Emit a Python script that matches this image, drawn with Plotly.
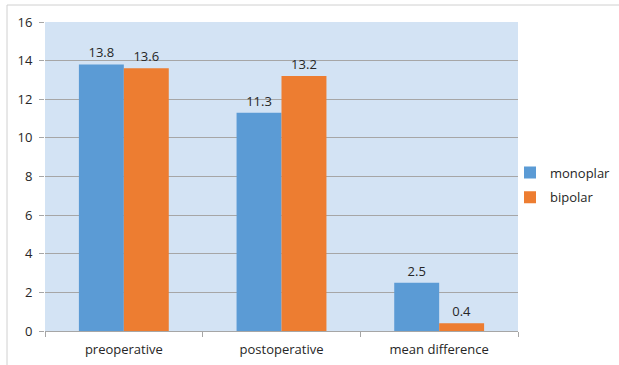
import plotly.graph_objects as go

categories = ["preoperative", "postoperative", "mean difference"]
monoplar = [13.8, 11.3, 2.5]
bipolar = [13.6, 13.2, 0.4]
y_ticks = [0, 2, 4, 6, 8, 10, 12, 14, 16]

font_family = "Open Sans, Liberation Sans, sans-serif"

fig = go.Figure()
fig.add_trace(go.Bar(
    name="monoplar", x=categories, y=monoplar, legendgroup="m",
    marker=dict(color="#5b9bd5", line=dict(width=0)),
    text=[str(v) for v in monoplar], textposition="outside",
    textfont=dict(size=13, color="#262626"), cliponaxis=False,
))
fig.add_trace(go.Bar(
    name="bipolar", x=categories, y=bipolar, legendgroup="b",
    marker=dict(color="#ed7d31", line=dict(width=0)),
    text=[str(v) for v in bipolar], textposition="outside",
    textfont=dict(size=13, color="#262626"), cliponaxis=False,
))

fig.update_layout(
    width=619, height=365,
    margin=dict(l=45, r=101, t=22, b=34, autoexpand=False),
    paper_bgcolor="white",
    plot_bgcolor="#d3e3f4",
    barmode="group", bargap=0.43, bargroupgap=0,
    font=dict(family=font_family, size=13, color="#262626"),
    showlegend=True,
    legend=dict(xref="container", yref="container", x=510 / 619, y=1 - 185 / 365,
                xanchor="left", yanchor="middle", traceorder="grouped",
                font=dict(size=13, color="#262626"),
                itemwidth=30, tracegroupgap=5, bgcolor="rgba(0,0,0,0)"),
    xaxis=dict(showgrid=False, showline=True, linecolor="#a6a6a6", linewidth=1,
               ticks="outside", tickson="boundaries", ticklen=5, tickcolor="#a6a6a6",
               ticklabelstandoff=6,
               tickfont=dict(size=13, color="#262626")),
    yaxis=dict(range=[0, 16], tickvals=y_ticks, showgrid=True, gridcolor="#a6a6a6",
               gridwidth=1, showline=False, zeroline=False, ticks="outside",
               ticklen=5, tickcolor="#a6a6a6", ticklabelstandoff=4,
               tickfont=dict(size=13, color="#262626")),
    shapes=[dict(type="rect", xref="paper", yref="paper",
                 x0=(7 - 45) / 473, x1=1.4, y0=-0.2, y1=(331 - 5) / 309,
                 line=dict(color="#d0d0d0", width=1), fillcolor="rgba(0,0,0,0)",
                 layer="below")],
)

fig.write_html("out.html", config={"displayModeBar": False},
               post_script="document.body.style.margin='0';")
